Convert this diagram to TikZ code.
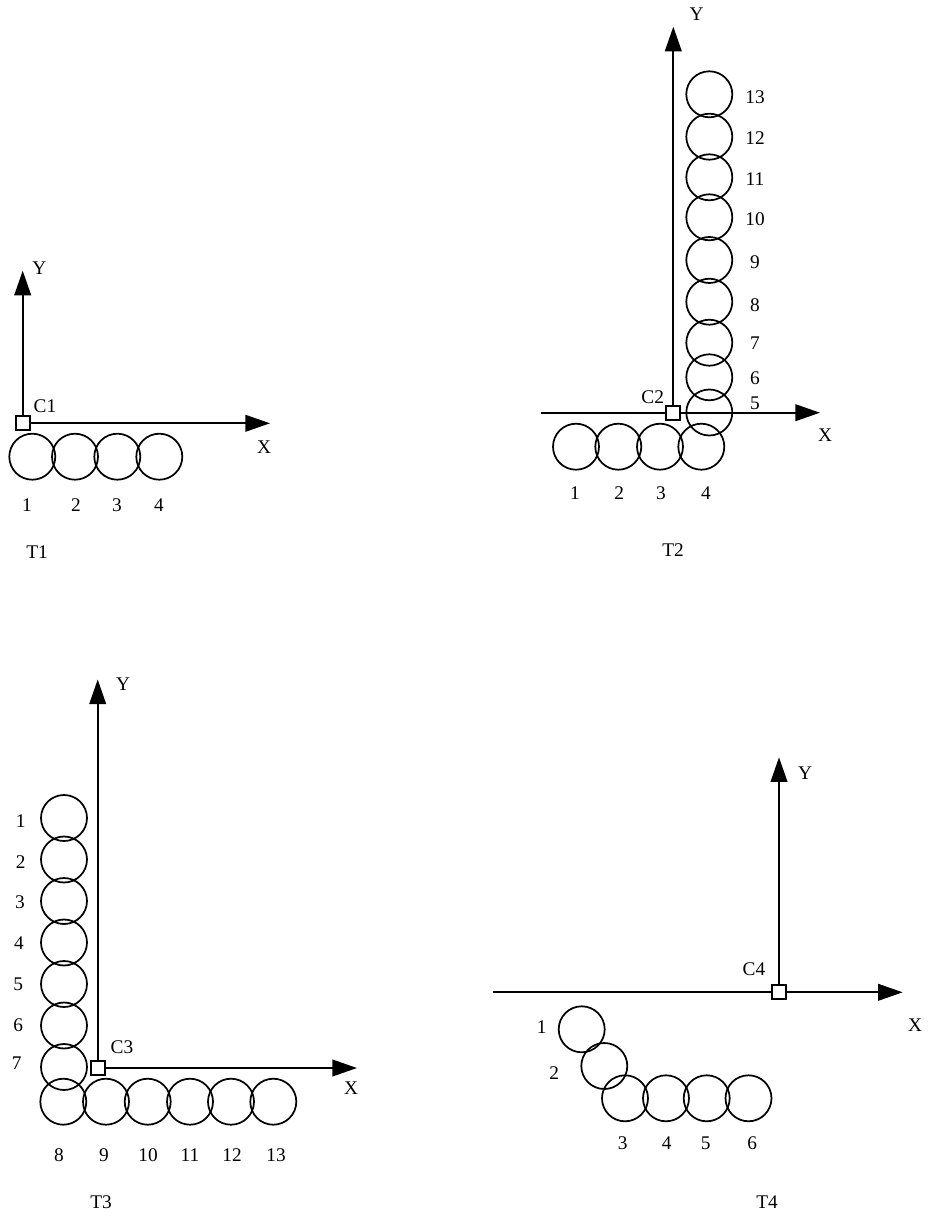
\documentclass[tikz,border=0pt]{standalone}
\usepackage{fontspec}
\setmainfont{Liberation Serif}
\usetikzlibrary{arrows.meta,backgrounds}

\begin{document}
\begin{tikzpicture}[x=0.75pt,y=-0.75pt,
  axis/.style={line width=1.4pt,-{Triangle[length=18.5pt,width=12.5pt]}},
  plainaxis/.style={line width=1.4pt},
  ball/.style={circle,draw,line width=1.3pt,minimum size=34.5pt,inner sep=0pt},
  origin/.style={rectangle,draw,fill=white,line width=1.3pt,minimum size=10.5pt,inner sep=0pt},
  lbl/.style={inner sep=0pt,font=\fontsize{14.5pt}{16pt}\selectfont}]

\useasboundingbox (0,0) rectangle (930,1216);

% ---------- T1 ----------
\foreach \i/\x in {1/32.3,2/75,3/117.3,4/159.3}
  \node[ball] (t1b\i) at (\x,456.7) {};
\node[origin] (c1) at (22.7,423.3) {};
\coordinate (y1) at (22.7,270.7);
\coordinate (x1) at (270,423.3);
\begin{scope}[on background layer]
  \draw[axis] (c1.center) -- (y1);
  \draw[axis] (c1.center) -- (x1);
\end{scope}
\node[lbl] (c1l) at (45,406) {C1};
\node[lbl] (y1l) at (39.3,268.3) {Y};
\node[lbl] (x1l) at (264,447) {X};
\foreach \i/\x in {1/27,2/76,3/117,4/159}
  \node[lbl] (t1l\i) at (\x,505) {\i};
\node[lbl] (t1) at (37,551.7) {T1};

% ---------- T2 ----------
\foreach \i/\x in {1/576,2/618.3,3/660,4/701.3}
  \node[ball] (t2b\i) at (\x,446.7) {};
\foreach \i/\y in {5/412.5,6/377.3,7/342.7,8/301.7,9/260,10/217.3,11/177.3,12/136.7,13/94.3}
  \node[ball] (t2b\i) at (709.3,\y) {};
\node[origin] (c2) at (673.3,412.7) {};
\coordinate (y2) at (673.3,26.7);
\coordinate (x2s) at (540.7,412.7);
\coordinate (x2) at (820,412.7);
\begin{scope}[on background layer]
  \draw[axis] (c2.center) -- (y2);
  \draw[plainaxis] (x2s) -- (c2.center);
  \draw[axis] (c2.center) -- (x2);
\end{scope}
\node[lbl] (c2l) at (652.7,396.7) {C2};
\node[lbl] (y2l) at (696.7,14) {Y};
\node[lbl] (x2l) at (825,435) {X};
\foreach \i/\x in {1/575,2/619.3,3/661,4/706}
  \node[lbl] (t2l\i) at (\x,493.3) {\i};
\foreach \i/\y in {5/403.3,6/378.3,7/343.3,8/305,9/261.7,10/219,11/179,12/138,13/96.7}
  \node[lbl] (t2l\i) at (755,\y) {\i};
\node[lbl] (t2) at (673,550) {T2};

% ---------- T3 ----------
\foreach \i/\y in {1/818,2/859.5,3/901,4/942.5,5/984,6/1025.5,7/1067}
  \node[ball] (t3b\i) at (64,\y) {};
\foreach \i/\x in {8/63.3,9/106,10/147.7,11/190,12/231,13/273.3}
  \node[ball] (t3b\i) at (\x,1101.7) {};
\node[origin] (c3) at (97.7,1068) {};
\coordinate (y3) at (97.7,679.5);
\coordinate (x3) at (357,1068);
\begin{scope}[on background layer]
  \draw[axis] (c3.center) -- (y3);
  \draw[axis] (c3.center) -- (x3);
\end{scope}
\node[lbl] (c3l) at (122,1047) {C3};
\node[lbl] (y3l) at (123,684) {Y};
\node[lbl] (x3l) at (351,1088.5) {X};
\foreach \i/\x/\y in {1/20.7/821,2/20.7/862,3/20/902.6,4/19/943,5/18.3/984,6/18.3/1024.7,7/16.7/1063.5}
  \node[lbl] (t3l\i) at (\x,\y) {\i};
\foreach \i/\x in {8/59,9/104,10/148,11/190,12/232,13/276}
  \node[lbl] (t3l\i) at (\x,1155) {\i};
\node[lbl] (t3) at (101,1202) {T3};

% ---------- T4 ----------
\node[ball] (t4b1) at (581.7,1029.3) {};
\node[ball] (t4b2) at (604.3,1066) {};
\foreach \i/\x in {3/625,4/666,5/706.7,6/748.5}
  \node[ball] (t4b\i) at (\x,1098.3) {};
\node[origin] (c4) at (779,992.3) {};
\coordinate (y4) at (779,757.3);
\coordinate (x4s) at (493.3,992.3);
\coordinate (x4) at (902.7,992.3);
\begin{scope}[on background layer]
  \draw[axis] (c4.center) -- (y4);
  \draw[plainaxis] (x4s) -- (c4.center);
  \draw[axis] (c4.center) -- (x4);
\end{scope}
\node[lbl] (c4l) at (754,969.3) {C4};
\node[lbl] (y4l) at (805,773) {Y};
\node[lbl] (x4l) at (915,1025) {X};
\node[lbl] (t4l1) at (541.7,1027) {1};
\node[lbl] (t4l2) at (554.3,1073.3) {2};
\foreach \i/\x in {3/622.7,4/666.7,5/705.7,6/752.3}
  \node[lbl] (t4l\i) at (\x,1143) {\i};
\node[lbl] (t4) at (767,1202) {T4};

\end{tikzpicture}
\end{document}
